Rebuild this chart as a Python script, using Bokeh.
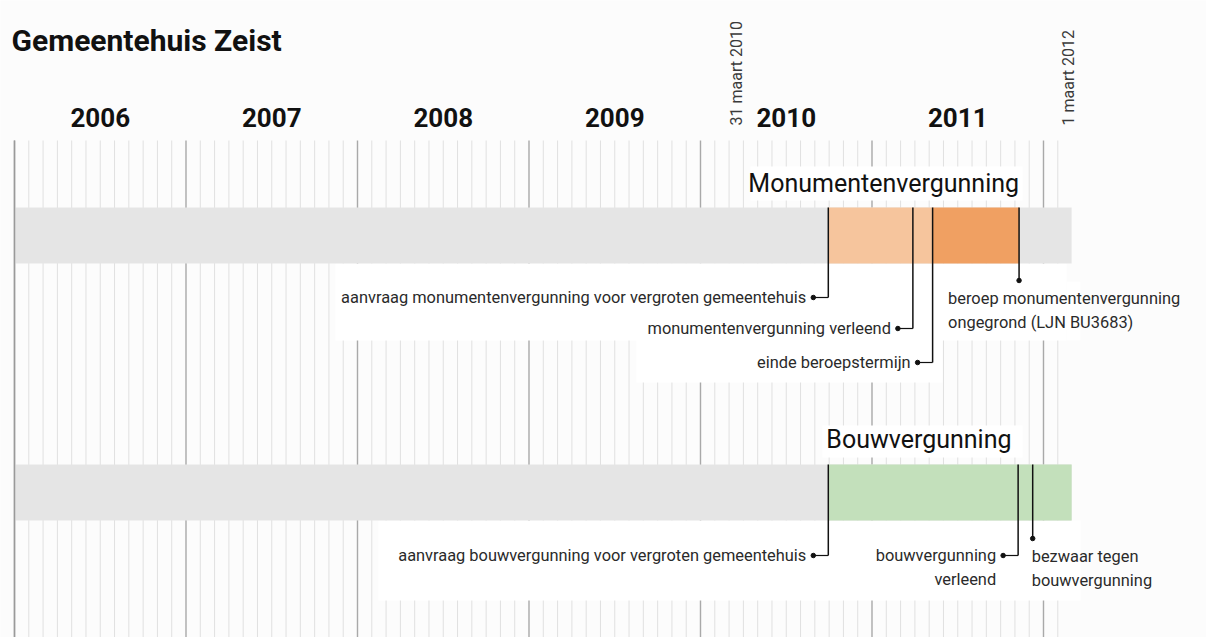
import datetime as dt
import math
from bokeh.plotting import figure
from bokeh.models import Range1d
from bokeh.core.properties import value
from bokeh.embed import file_html
from bokeh.resources import INLINE

# ---------------- data ----------------
TITLE = "Gemeentehuis Zeist"
YEARS = [2006, 2007, 2008, 2009, 2010, 2011]
TIMELINE_START = "2006-01-01"
TIMELINE_END = "2012-03-01"
MARKER_DATES = ["2010-03-31", "2012-03-01"]
MARKER_LABELS = ["31 maart 2010", "1 maart 2012"]

MON_TITLE = "Monumentenvergunning"
MON_EVENTS = ["2010-09-30", "2011-03-29", "2011-05-10", "2011-11-10"]
MON_LABELS = [
    ["aanvraag monumentenvergunning voor vergroten gemeentehuis"],
    ["monumentenvergunning verleend"],
    ["einde beroepstermijn"],
    ["beroep monumentenvergunning", "ongegrond (LJN BU3683)"],
]
MON_PHASE_START = ["2010-09-30", "2011-05-10"]
MON_PHASE_END = ["2011-05-10", "2011-11-10"]

BOUW_TITLE = "Bouwvergunning"
BOUW_EVENTS = ["2010-09-30", "2011-11-08", "2011-12-09"]
BOUW_LABELS = [
    ["aanvraag bouwvergunning voor vergroten gemeentehuis"],
    ["bouwvergunning", "verleend"],
    ["bezwaar tegen", "bouwvergunning"],
]
BOUW_PHASE_START = ["2010-09-30"]
BOUW_PHASE_END = ["2012-03-01"]

# ---------------- style / layout ----------------
W, H = 1206, 637
PXY = 171.5                      # pixels per year
X0 = 2006 - 14 / PXY
X1 = X0 + W / PXY
PX = 1 / PXY                     # one pixel in data units

FONT = value("Roboto")
BG = "#fcfcfc"
BAND = "#e5e5e5"
MON_COLORS = ["#f6c59d", "#f0a062"]
BOUW_COLORS = ["#c3e0bb"]
MONTH_LINE = "#e0e0e0"
YEAR_LINE = "#a9a9a9"
INK = "#2a2a2a"


def fy(s):
    d = dt.date.fromisoformat(s)
    start = dt.date(d.year, 1, 1)
    n = (dt.date(d.year + 1, 1, 1) - start).days
    return d.year + (d - start).days / n


def sx(px):  # window pixel x -> data x
    return X0 + px / PXY


p = figure(width=W, height=H, x_range=Range1d(X0, X1), y_range=Range1d(H, 0),
           output_backend="svg", toolbar_location=None, min_border=0,
           background_fill_color=BG, border_fill_color=BG, outline_line_color=None)
p.axis.visible = False
p.grid.visible = False

# month grid lines
t0, t1 = fy(TIMELINE_START), fy(TIMELINE_END)
gx, gc, gw = [], [], []
y, m = 2006, 1
while True:
    v = y + (m - 1) / 12
    if v > t1 + 1e-6:
        break
    gx.append(v)
    gc.append(YEAR_LINE if m == 1 else MONTH_LINE)
    gw.append(1.4 if m == 1 else 1.0)
    m += 1
    if m > 12:
        m, y = 1, y + 1
p.segment(x0=gx, y0=[140] * len(gx), x1=gx, y1=[H] * len(gx),
          line_color=gc, line_width=gw)

# white boxes behind labels (mask the grid)
boxes = [  # left, right, top, bottom in window pixels
    (750, 1022, 166, 200),
    (335, 940, 263, 340),
    (636, 942, 263, 382),
    (940, 1066, 263, 340),
    (1066, 1080, 281, 340),
    (822, 1022, 425, 457),
    (378, 1080, 520, 600),
]
p.quad(left=[sx(b[0]) for b in boxes], right=[sx(b[1]) for b in boxes],
       top=[b[2] for b in boxes], bottom=[b[3] for b in boxes],
       fill_color="#ffffff", line_color=None)

# rows
ROWS = [
    dict(title=MON_TITLE, events=MON_EVENTS, labels=MON_LABELS,
         ps=MON_PHASE_START, pe=MON_PHASE_END, colors=MON_COLORS,
         top=207, bottom=263,
         title_pos=("right", 183),
         conn=[("left", 297, -22), ("left", 328, -22), ("left", 362, -22),
               ("below", 280, -71)]),
    dict(title=BOUW_TITLE, events=BOUW_EVENTS, labels=BOUW_LABELS,
         ps=BOUW_PHASE_START, pe=BOUW_PHASE_END, colors=BOUW_COLORS,
         top=464, bottom=520,
         title_pos=("left", 439),
         conn=[("left", 555, -22), ("left", 555, -22), ("below", 538, -1)]),
]

LINE_H = 24
for r in ROWS:
    top, bot = r["top"], r["bottom"]
    p.quad(left=[t0], right=[t1], top=[top], bottom=[bot],
           fill_color=BAND, line_color=None)
    p.quad(left=[fy(s) for s in r["ps"]], right=[fy(e) for e in r["pe"]],
           top=[top] * len(r["ps"]), bottom=[bot] * len(r["ps"]),
           fill_color=r["colors"], line_color=None)
    ex = [fy(e) for e in r["events"]]
    cy = [c[1] for c in r["conn"]]
    p.segment(x0=ex, y0=[top] * len(ex), x1=ex, y1=cy,
              line_color="#111111", line_width=1.5)
    hx0, hx1, hy, dx, dyy = [], [], [], [], []
    for x, (kind, c, _) in zip(ex, r["conn"]):
        if kind == "left":
            hx0.append(x)
            hx1.append(x - 15 * PX)
            hy.append(c)
            dx.append(x - 15 * PX)
        else:
            dx.append(x)
        dyy.append(c)
    p.segment(x0=hx0, y0=hy, x1=hx1, y1=hy, line_color="#111111", line_width=1.2)
    p.scatter(x=dx, y=dyy, size=4.5, color="#111111")

    # event labels
    tx, ty, tt, ta, txo = [], [], [], [], []
    for x, (kind, c, off), lines in zip(ex, r["conn"], r["labels"]):
        for i, line in enumerate(lines):
            tt.append(line)
            tx.append(x)
            txo.append(off)
            if kind == "left":
                ty.append(c + i * LINE_H)
                ta.append("right")
            else:
                ty.append(c + 18 + i * LINE_H)
                ta.append("left")
    p.text(x=tx, y=ty, text=tt, text_align=ta, x_offset=txo,
           text_baseline="middle", text_font=FONT, text_font_size="16.4px",
           text_color=INK)

    # row title
    align, mid = r["title_pos"]
    anchor = max(ex) if align == "right" else min(ex)
    p.text(x=[anchor], y=[mid], text=[r["title"]], text_align=align,
           x_offset=[0 if align == "right" else -2],
           text_baseline="middle", text_font=FONT, text_font_size="25px",
           text_color="#111111")

# leftmost line over the bands
p.segment(x0=[t0], y0=[140], x1=[t0], y1=[H], line_color="#9a9a9a", line_width=1.5)

# year labels
p.text(x=[yy + 0.5 for yy in YEARS], y=[117] * len(YEARS),
       text=[str(yy) for yy in YEARS], text_align="center", text_baseline="middle",
       text_font=FONT, text_font_style="bold", text_font_size="26px", text_color="#111111")

# rotated date markers
p.text(x=[fy(d) for d in MARKER_DATES], y=[125] * len(MARKER_DATES),
       text=MARKER_LABELS, angle=math.pi / 2, text_align="left",
       text_baseline="middle", x_offset=[-6, -3],
       text_font=FONT, text_font_size="16px", text_color="#3a3a3a")

# title
p.text(x=[sx(11)], y=[40], text=[TITLE], text_align="left",
       text_baseline="middle", text_font=FONT, text_font_style="bold",
       text_font_size="30px", text_color="#111111")

open("out.html", "w").write(file_html(p, INLINE))
